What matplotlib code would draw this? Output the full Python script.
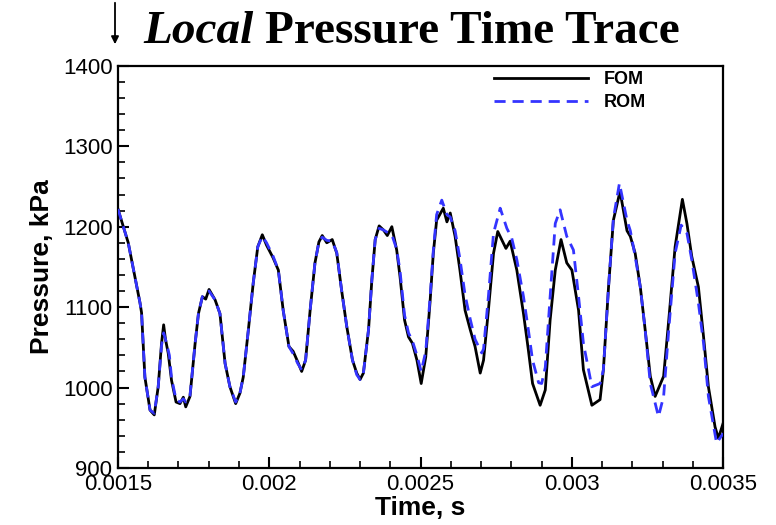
"""Local pressure time trace: FOM vs ROM."""
import matplotlib
matplotlib.use("Agg")
import matplotlib.pyplot as plt
from matplotlib.ticker import MultipleLocator, FuncFormatter

plt.rcParams["font.family"] = ["Liberation Sans", "DejaVu Sans"]

# FOM trace (time s, pressure kPa)
t_fom = [0.001500, 0.001534, 0.001573, 0.001578, 0.001589, 0.001606, 0.001620, 0.001633,
         0.001644, 0.001651, 0.001657, 0.001666, 0.001677, 0.001692, 0.001705, 0.001716,
         0.001724, 0.001738, 0.001755, 0.001766, 0.001779, 0.001790, 0.001801, 0.001821,
         0.001837, 0.001854, 0.001870, 0.001889, 0.001903, 0.001914, 0.001931, 0.001947,
         0.001962, 0.001977, 0.001991, 0.002013, 0.002030, 0.002046, 0.002065, 0.002079,
         0.002094, 0.002107, 0.002120, 0.002135, 0.002151, 0.002164, 0.002175, 0.002190,
         0.002208, 0.002223, 0.002239, 0.002256, 0.002275, 0.002289, 0.002300, 0.002311,
         0.002328, 0.002339, 0.002350, 0.002363, 0.002377, 0.002390, 0.002405, 0.002421,
         0.002432, 0.002447, 0.002460, 0.002473, 0.002488, 0.002502, 0.002517, 0.002531,
         0.002542, 0.002553, 0.002575, 0.002587, 0.002598, 0.002614, 0.002630, 0.002647,
         0.002664, 0.002680, 0.002697, 0.002708, 0.002724, 0.002741, 0.002755, 0.002782,
         0.002796, 0.002818, 0.002840, 0.002856, 0.002870, 0.002895, 0.002912, 0.002928,
         0.002945, 0.002964, 0.002983, 0.003000, 0.003022, 0.003038, 0.003066, 0.003093,
         0.003104, 0.003121, 0.003137, 0.003159, 0.003182, 0.003193, 0.003209, 0.003226,
         0.003242, 0.003259, 0.003275, 0.003303, 0.003320, 0.003341, 0.003365, 0.003380,
         0.003396, 0.003418, 0.003435, 0.003451, 0.003473, 0.003484, 0.003500]
p_fom = [1222, 1180, 1105, 1093, 1013, 972, 966, 1001,
         1055, 1078, 1060, 1043, 1009, 982, 980, 988,
         976, 989, 1055, 1092, 1113, 1110, 1122, 1109,
         1092, 1030, 1001, 980, 993, 1013, 1072, 1130,
         1175, 1190, 1177, 1161, 1146, 1096, 1051, 1045,
         1032, 1020, 1034, 1096, 1155, 1181, 1189, 1180,
         1184, 1167, 1121, 1076, 1034, 1018, 1010, 1018,
         1072, 1134, 1184, 1201, 1196, 1189, 1200, 1171,
         1138, 1084, 1063, 1055, 1034, 1005, 1038, 1105,
         1167, 1208, 1223, 1206, 1217, 1188, 1146, 1096,
         1072, 1051, 1018, 1034, 1096, 1167, 1194, 1173,
         1182, 1146, 1092, 1047, 1005, 978, 997, 1084,
         1146, 1184, 1155, 1146, 1096, 1022, 978, 985,
         1022, 1125, 1208, 1244, 1195, 1188, 1167, 1125,
         1072, 1014, 989, 1014, 1084, 1175, 1234, 1204,
         1163, 1125, 1063, 1001, 951, 937, 956]

# ROM trace (time s, pressure kPa)
t_rom = [0.001500, 0.001534, 0.001573, 0.001578, 0.001589, 0.001606, 0.001620, 0.001633,
         0.001644, 0.001651, 0.001660, 0.001670, 0.001677, 0.001692, 0.001705, 0.001716,
         0.001724, 0.001738, 0.001755, 0.001766, 0.001779, 0.001790, 0.001801, 0.001821,
         0.001837, 0.001854, 0.001870, 0.001889, 0.001903, 0.001914, 0.001931, 0.001947,
         0.001962, 0.001977, 0.001991, 0.002013, 0.002030, 0.002046, 0.002065, 0.002079,
         0.002094, 0.002107, 0.002120, 0.002135, 0.002151, 0.002164, 0.002175, 0.002190,
         0.002208, 0.002223, 0.002239, 0.002256, 0.002275, 0.002289, 0.002300, 0.002311,
         0.002328, 0.002339, 0.002350, 0.002363, 0.002377, 0.002390, 0.002405, 0.002421,
         0.002432, 0.002447, 0.002460, 0.002473, 0.002488, 0.002502, 0.002517, 0.002531,
         0.002542, 0.002553, 0.002570, 0.002587, 0.002598, 0.002614, 0.002630, 0.002647,
         0.002664, 0.002680, 0.002702, 0.002708, 0.002724, 0.002741, 0.002763, 0.002785,
         0.002801, 0.002818, 0.002840, 0.002856, 0.002870, 0.002890, 0.002900, 0.002912,
         0.002928, 0.002945, 0.002961, 0.002983, 0.003005, 0.003022, 0.003038, 0.003066,
         0.003093, 0.003104, 0.003121, 0.003137, 0.003157, 0.003182, 0.003193, 0.003209,
         0.003226, 0.003242, 0.003259, 0.003286, 0.003303, 0.003320, 0.003341, 0.003361,
         0.003380, 0.003396, 0.003418, 0.003435, 0.003451, 0.003478, 0.003500]
p_rom = [1222, 1180, 1105, 1093, 1013, 972, 968, 1001,
         1052, 1068, 1056, 1040, 1012, 985, 982, 986,
         982, 990, 1055, 1092, 1113, 1115, 1120, 1109,
         1092, 1030, 1001, 982, 993, 1013, 1072, 1130,
         1175, 1188, 1180, 1163, 1146, 1096, 1051, 1042,
         1030, 1022, 1034, 1096, 1155, 1181, 1187, 1183,
         1182, 1168, 1121, 1076, 1034, 1016, 1010, 1018,
         1072, 1134, 1184, 1198, 1196, 1193, 1190, 1172,
         1145, 1090, 1068, 1058, 1040, 1020, 1045, 1110,
         1170, 1215, 1233, 1215, 1212, 1195, 1160, 1115,
         1085, 1060, 1043, 1048, 1113, 1192, 1223, 1198,
         1186, 1159, 1113, 1072, 1034, 1006, 1005, 1025,
         1113, 1204, 1221, 1188, 1171, 1113, 1055, 1001,
         1005, 1022, 1125, 1210, 1254, 1208, 1195, 1163,
         1125, 1072, 1005, 964, 989, 1072, 1167, 1202,
         1192, 1159, 1105, 1055, 989, 931, 943]

x_ticks = [0.0015, 0.002, 0.0025, 0.003, 0.0035]
y_ticks = [900, 1000, 1100, 1200, 1300, 1400]

fig = plt.figure(figsize=(7.76, 5.25), dpi=100)
ax = fig.add_axes([0.152, 0.1086, 0.780, 0.766])

ax.plot(t_fom, p_fom, color="black", lw=2.0, label="FOM", zorder=2,
        solid_joinstyle="round")
ax.plot(t_rom, p_rom, color="#3434ff", lw=2.0, ls=(0, (4, 2.5)), label="ROM", zorder=3,
        dash_joinstyle="round")

ax.set_xlim(0.0015, 0.0035)
ax.set_ylim(900, 1400)
ax.set_xticks(x_ticks)
ax.set_yticks(y_ticks)
ax.xaxis.set_minor_locator(MultipleLocator(0.0001))
ax.yaxis.set_minor_locator(MultipleLocator(20))
ax.xaxis.set_major_formatter(FuncFormatter(lambda v, _: f"{v:g}"))
ax.tick_params(which="both", direction="in", top=False, right=False, labelsize=16, pad=4)
ax.tick_params(which="major", length=8, width=1.5)
ax.tick_params(which="minor", length=5, width=1.2)
for s in ax.spines.values():
    s.set_linewidth(1.6)

ax.set_xlabel("Time, s", fontsize=19, fontweight="bold", labelpad=1)
ax.set_ylabel("Pressure, kPa", fontsize=19, fontweight="bold", labelpad=6)

leg = ax.legend(loc="upper right", frameon=False, handlelength=5.2, handletextpad=0.9,
                prop={"weight": "bold", "size": 13}, borderaxespad=0.0,
                labelspacing=0.35, bbox_to_anchor=(0.885, 1.005))

# title: italic "Local" + bold rest, Times-like
ttl_y = 1 - 43 / 525
t1 = fig.text(143 / 776, ttl_y, "Local", family="Liberation Serif", style="italic",
              weight="bold", fontsize=34, va="baseline", ha="left")
fig.canvas.draw()
bb = t1.get_window_extent()
fig.text((bb.x1 + 12) / 776, ttl_y, "Pressure Time Trace", family="Liberation Serif",
         weight="bold", fontsize=34, va="baseline", ha="left")

# down arrow at top-left
fig.add_artist(matplotlib.patches.FancyArrowPatch(
    (115 / 776, 1.0), (115 / 776, 1 - 47 / 525), transform=fig.transFigure,
    arrowstyle="-|>", mutation_scale=11, lw=1.3, color="black"))

fig.savefig("out.png", dpi=100)
